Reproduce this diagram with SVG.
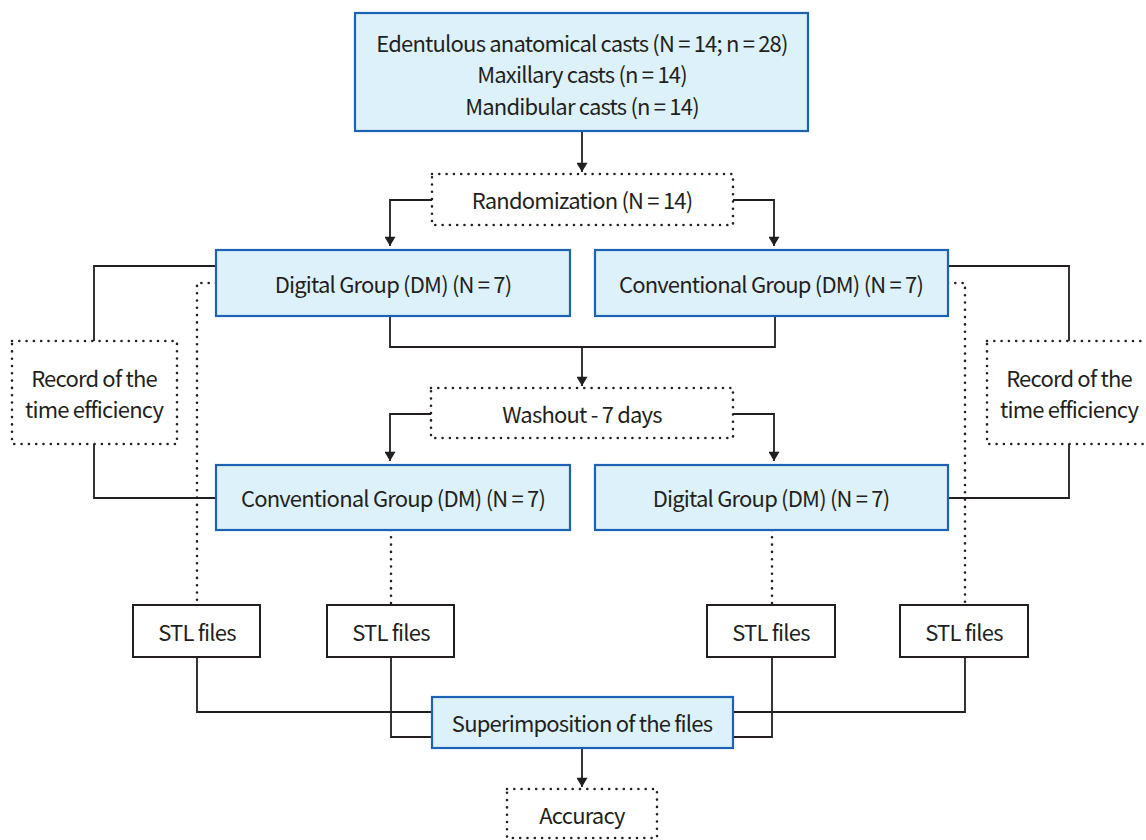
<svg xmlns="http://www.w3.org/2000/svg" width="1146" height="840" viewBox="0 0 1146 840">
  <defs>
    <style>
      text { font-family: "Noto Sans CJK KR", "Noto Sans", sans-serif; font-size: 22px; fill: #231f20; text-anchor: middle; dominant-baseline: central; letter-spacing: -0.8px; }
      .blue { fill: #ddf1fb; stroke: #1c62b5; stroke-width: 2.2; }
      .plain { fill: #ffffff; stroke: #231f20; stroke-width: 2; }
      .dotbox { fill: none; stroke: #231f20; stroke-width: 2.6; stroke-dasharray: 0 7.3; stroke-linecap: round; }
      .wire { fill: none; stroke: #231f20; stroke-width: 1.8; }
      .dotwire { fill: none; stroke: #231f20; stroke-width: 2.6; stroke-dasharray: 0 7.3; stroke-linecap: round; }
    </style>
    <marker id="arrow" viewBox="0 0 10 12" refX="10" refY="6" markerWidth="13" markerHeight="11" markerUnits="userSpaceOnUse" orient="auto">
      <path d="M0,0 L10,6 L0,12 Z" fill="#231f20"/>
    </marker>
  </defs>

  <!-- connectors -->
  <g id="connectors">
    <!-- casts to randomization -->
    <path class="wire" d="M582,131 V172" marker-end="url(#arrow)"/>
    <!-- randomization split -->
    <path class="wire" d="M432,200 H390 V246" marker-end="url(#arrow)"/>
    <path class="wire" d="M733,200 H774 V246" marker-end="url(#arrow)"/>
    <!-- first period merge into washout -->
    <path class="wire" d="M390,316 V347 H775 V316"/>
    <path class="wire" d="M582,347 V386" marker-end="url(#arrow)"/>
    <!-- washout split -->
    <path class="wire" d="M431,414 H390 V461" marker-end="url(#arrow)"/>
    <path class="wire" d="M733,414 H774 V461" marker-end="url(#arrow)"/>
    <!-- time-efficiency links, left -->
    <path class="wire" d="M216,266 H94 V341"/>
    <path class="wire" d="M94,444 V498 H216"/>
    <!-- time-efficiency links, right -->
    <path class="wire" d="M948,266 H1069 V341"/>
    <path class="wire" d="M1069,444 V498 H948"/>
    <!-- dotted links to STL files -->
    <path class="dotwire" d="M216,283 H197 V605"/>
    <path class="dotwire" d="M948,283 H965 V605"/>
    <path class="dotwire" d="M391,530 V605"/>
    <path class="dotwire" d="M772,530 V605"/>
    <!-- STL files into superimposition -->
    <path class="wire" d="M197,657 V712 H432"/>
    <path class="wire" d="M391,657 V737 H432"/>
    <path class="wire" d="M772,657 V737 H733"/>
    <path class="wire" d="M965,657 V712 H733"/>
    <!-- superimposition to accuracy -->
    <path class="wire" d="M582,748 V787" marker-end="url(#arrow)"/>
  </g>

  <g id="casts">
    <rect class="blue" x="355" y="13" width="453" height="118"/>
    <text x="582" y="42">Edentulous anatomical casts (N = 14; n = 28)</text>
    <text x="582" y="73">Maxillary casts (n = 14)</text>
    <text x="582" y="105">Mandibular casts (n = 14)</text>
  </g>

  <g id="randomization">
    <rect class="dotbox" x="432" y="174" width="301" height="51"/>
    <text x="582" y="199">Randomization (N = 14)</text>
  </g>

  <g id="digital-1">
    <rect class="blue" x="216" y="250" width="354" height="66"/>
    <text x="393" y="283">Digital Group (DM) (N = 7)</text>
  </g>

  <g id="conventional-1">
    <rect class="blue" x="595" y="250" width="353" height="66"/>
    <text x="771" y="283">Conventional Group (DM) (N = 7)</text>
  </g>

  <g id="washout">
    <rect class="dotbox" x="431" y="388" width="302" height="50"/>
    <text x="582" y="413">Washout - 7 days</text>
  </g>

  <g id="record-left">
    <rect class="dotbox" x="12" y="341" width="165" height="103"/>
    <text x="94" y="377">Record of the</text>
    <text x="94" y="408">time efficiency</text>
  </g>

  <g id="record-right">
    <rect class="dotbox" x="987" y="341" width="165" height="103"/>
    <text x="1069" y="377">Record of the</text>
    <text x="1069" y="408">time efficiency</text>
  </g>

  <g id="conventional-2">
    <rect class="blue" x="216" y="465" width="354" height="65"/>
    <text x="393" y="497">Conventional Group (DM) (N = 7)</text>
  </g>

  <g id="digital-2">
    <rect class="blue" x="595" y="465" width="353" height="65"/>
    <text x="771" y="497">Digital Group (DM) (N = 7)</text>
  </g>

  <g id="stl-1">
    <rect class="plain" x="133" y="605" width="127" height="52"/>
    <text x="197" y="631">STL files</text>
  </g>
  <g id="stl-2">
    <rect class="plain" x="327" y="605" width="127" height="52"/>
    <text x="391" y="631">STL files</text>
  </g>
  <g id="stl-3">
    <rect class="plain" x="707" y="605" width="128" height="52"/>
    <text x="771" y="631">STL files</text>
  </g>
  <g id="stl-4">
    <rect class="plain" x="900" y="605" width="128" height="52"/>
    <text x="964" y="631">STL files</text>
  </g>

  <g id="superimposition">
    <rect class="blue" x="432" y="697" width="301" height="51"/>
    <text x="582" y="722">Superimposition of the files</text>
  </g>

  <g id="accuracy">
    <rect class="dotbox" x="507" y="789" width="150" height="49"/>
    <text x="582" y="814">Accuracy</text>
  </g>
</svg>
